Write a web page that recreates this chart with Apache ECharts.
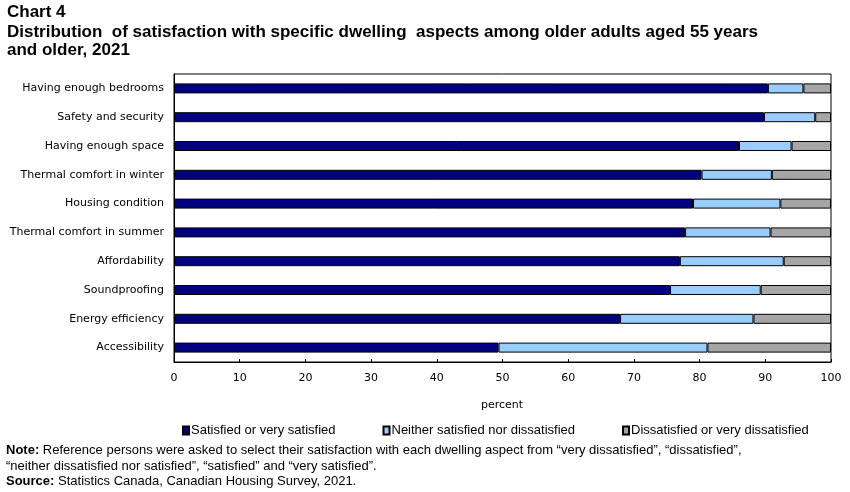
<!DOCTYPE html>
<html><head><meta charset="utf-8">
<script src="https://cdn.jsdelivr.net/npm/echarts@6/dist/echarts.min.js"></script>
<style>html,body{margin:0;padding:0;background:#fff}#c{width:850px;height:492px}</style>
</head><body><div id="c"></div>
<script>
const categories = ["Having enough bedrooms","Safety and security","Having enough space","Thermal comfort in winter","Housing condition","Thermal comfort in summer","Affordability","Soundproofing","Energy efficiency","Accessibility"];
const satisfied = [90.4, 89.8, 86.0, 80.3, 79.0, 77.8, 77.0, 75.5, 67.9, 49.4];
const neither = [5.4, 7.8, 8.0, 10.7, 13.3, 13.0, 15.8, 13.8, 20.3, 31.8];
const dissatisfied = [4.2, 2.4, 6.0, 9.0, 7.7, 9.2, 7.2, 10.7, 11.8, 18.8];
const seriesNames = ["Satisfied or very satisfied","Neither satisfied nor dissatisfied","Dissatisfied or very dissatisfied"];
const xTicks = [0,10,20,30,40,50,60,70,80,90,100];

const chart = echarts.init(document.getElementById('c'), null, {renderer:'canvas'});
const titleFont = '"Liberation Sans", Arial, sans-serif';
const bodyFont = '"DejaVu Sans", Verdana, sans-serif';
const colors = ['#000080','#99ccff','#a6a6a6'];
function mk(name, data, color){
  return {name:name, type:'bar', stack:'s', data:data, barWidth:10,
    itemStyle:{color:color, borderColor:'#000', borderWidth:1}, emphasis:{disabled:true}};
}
chart.setOption({
  animation:false,
  textStyle:{fontFamily:bodyFont},
  graphic:[
    {type:'text', left:7, top:4, style:{text:'Chart 4', font:'bold 17px '+titleFont, fill:'#000'}},
    {type:'text', left:7, top:23, style:{text:'Distribution  of satisfaction with specific dwelling  aspects among older adults aged 55 years\nand older, 2021', font:'bold 17px '+titleFont, lineHeight:18, fill:'#000'}},
    {type:'text', left:6, top:443, style:{
      rich:{b:{fontWeight:'bold', fontSize:13, fontFamily:titleFont, fill:'#000'}, n:{fontSize:13, fontFamily:titleFont, fill:'#000'}},
      text:'{b|Note:}{n| Reference persons were asked to select their satisfaction with each dwelling aspect from “very dissatisfied”, “dissatisfied”,}\n{n|“neither dissatisfied nor satisfied”, “satisfied” and “very satisfied”.}\n{b|Source:}{n| Statistics Canada, Canadian Housing Survey, 2021.}',
      lineHeight:15.5}},
    {type:'text', left:481, top:400, style:{text:'percent', font:'11px '+bodyFont, fill:'#000'}}
  ],
  legend:{left:177, top:419, icon:'rect', itemWidth:6, itemHeight:8, itemGap:47,
    textStyle:{fontFamily:titleFont, fontSize:13, color:'#000', padding:[0,0,0,-3]},
    data:seriesNames, selectedMode:false},
  grid:{left:174, right:19, top:74, bottom:130, show:true, borderColor:'#000', borderWidth:1},
  xAxis:{type:'value', min:0, max:100, interval:10,
    axisLine:{show:true, lineStyle:{color:'#000'}},
    axisTick:{show:true, inside:true, length:3, lineStyle:{color:'#000'}},
    splitLine:{show:false},
    axisLabel:{color:'#000', fontSize:11, margin:11, fontFamily:bodyFont,
      formatter:function(v){return xTicks.indexOf(v)>=0? String(v):'';}}},
  yAxis:{type:'category', data:categories, inverse:true,
    axisLine:{show:true, lineStyle:{color:'#000'}}, axisTick:{show:false},
    axisLabel:{color:'#000', fontSize:11, margin:10, fontFamily:bodyFont}},
  series:[mk(seriesNames[0], satisfied, colors[0]), mk(seriesNames[1], neither, colors[1]), mk(seriesNames[2], dissatisfied, colors[2])]
});
</script></body></html>
